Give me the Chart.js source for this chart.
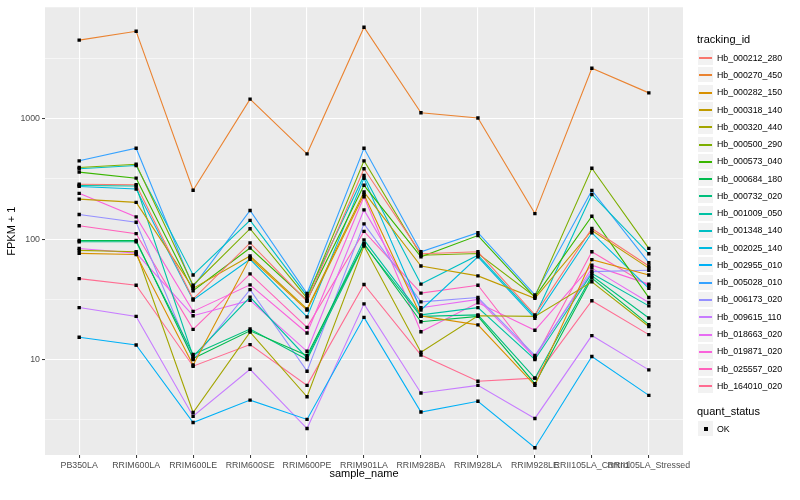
<!DOCTYPE html>
<html>
<head>
<meta charset="utf-8">
<script src="https://cdn.jsdelivr.net/npm/chart.js@4.4.1/dist/chart.umd.min.js"></script>
<style>
  body { margin: 0; background: #fff; }
  #wrap { position: relative; width: 800px; height: 500px; font-family: "Liberation Sans", Arial, sans-serif; }
  #legend { position: absolute; left: 0; top: 0; }
  .ttl { position: absolute; font-size: 11px; color: #000; white-space: nowrap; }
  .key { position: absolute; width: 17px; height: 17px; background: #F2F2F2; box-sizing: border-box; border: 1px solid #fff; }
  .key i { position: absolute; left: 1px; right: 1px; top: 7px; height: 1.5px; }
  .lab { position: absolute; font-size: 8.8px; color: #000; white-space: nowrap; line-height: 10px; }
</style>
</head>
<body>
<div id="wrap">
  <canvas id="myChart" width="800" height="500"></canvas>
  <div id="legend"></div>
</div>
<script>
// sample names on the x axis
const samples = [
    'PB350LA',
    'RRIM600LA',
    'RRIM600LE',
    'RRIM600SE',
    'RRIM600PE',
    'RRIM901LA',
    'RRIM928BA',
    'RRIM928LA',
    'RRIM928LE',
    'RRII105LA_Control',
    'RRII105LA_Stressed'
];

// FPKM + 1, one array per tracking_id
const hb_000212_280 = [286, 283, 31.8, 93, 30.5, 384, 75.7, 78.5, 23.5, 122.5, 59.8];
const hb_000270_450 = [4500, 5330, 255, 1455, 511, 5760, 1121, 1013, 163, 2625, 1640];
const hb_000282_150 = [76.2, 74.5, 9.0, 70, 25.7, 235, 23, 19.4, 6.1, 67.5, 50.4];
const hb_000318_140 = [215, 202, 39, 72.4, 26.3, 246, 59.8, 49.5, 32.2, 118, 57.4];
const hb_000320_440 = [80.7, 78.5, 3.63, 16.9, 4.9, 87.5, 11.5, 23.1, 22.8, 44.2, 18.8];
const hb_000500_290 = [394, 419, 41.4, 122, 32.3, 447, 73.5, 76, 33.3, 388, 83.7];
const hb_000573_040 = [360, 321, 37.3, 84.3, 31, 280, 71.2, 107, 33, 155, 32.7];
const hb_000684_180 = [97.5, 97.5, 10.2, 17.3, 10.8, 92, 20.6, 22.8, 6.3, 47.5, 19.5];
const hb_000732_020 = [95, 95, 11.0, 17.9, 10.0, 90.4, 22.8, 23.5, 7.0, 49.5, 22.1];
const hb_001009_050 = [279, 276, 10.6, 33, 10.3, 98.6, 23.5, 27, 10.0, 51.9, 27.9];
const hb_001348_140 = [384, 409, 50.4, 143, 33.8, 338, 42.3, 73.5, 22.8, 235, 75.7];
const hb_002025_140 = [274, 261, 31.2, 68, 22.6, 320, 25.8, 71.2, 22, 113, 39];
const hb_002955_010 = [15.3, 13.2, 3.0, 4.6, 3.18, 22.4, 3.66, 4.5, 1.85, 10.6, 5.04];
const hb_005028_010 = [447, 569, 40.1, 173, 35.3, 569, 78.5, 113, 34.4, 254, 63.7];
const hb_006173_020 = [160, 138, 10.0, 38.1, 8.0, 134, 30.1, 32.7, 10.8, 53.7, 55.2];
const hb_009615_110 = [27, 22.8, 3.38, 8.3, 2.67, 29, 5.27, 6.1, 3.24, 15.8, 8.2];
const hb_018663_020 = [83.7, 76.5, 23.1, 31, 11.7, 175, 26.9, 31.6, 10.4, 57.4, 29.8];
const hb_019871_020 = [240, 153, 25.1, 41.7, 16.6, 225, 17.0, 29.6, 17.5, 60.7, 42.3];
const hb_025557_020 = [129, 111, 17.8, 51.4, 18.5, 116, 35.6, 41.4, 10.2, 78.5, 41];
const hb_164010_020 = [47, 41.4, 8.8, 13.3, 6.1, 42, 10.9, 6.6, 7.0, 30.8, 16.1];

const trackingIds = [
    'Hb_000212_280', 'Hb_000270_450', 'Hb_000282_150', 'Hb_000318_140', 'Hb_000320_440',
    'Hb_000500_290', 'Hb_000573_040', 'Hb_000684_180', 'Hb_000732_020', 'Hb_001009_050',
    'Hb_001348_140', 'Hb_002025_140', 'Hb_002955_010', 'Hb_005028_010', 'Hb_006173_020',
    'Hb_009615_110', 'Hb_018663_020', 'Hb_019871_020', 'Hb_025557_020', 'Hb_164010_020'
];
const seriesValues = [
    hb_000212_280, hb_000270_450, hb_000282_150, hb_000318_140, hb_000320_440,
    hb_000500_290, hb_000573_040, hb_000684_180, hb_000732_020, hb_001009_050,
    hb_001348_140, hb_002025_140, hb_002955_010, hb_005028_010, hb_006173_020,
    hb_009615_110, hb_018663_020, hb_019871_020, hb_025557_020, hb_164010_020
];
const yTicks = [10, 100, 1000];

// ggplot default hue palette for 20 levels
const colors = [
    '#F8766D', '#EA8331', '#D89000', '#C09B00', '#A3A500', '#7CAE00', '#39B600', '#00BB4E', '#00BF7D', '#00C1A3',
    '#00BFC4', '#00BAE0', '#00B0F6', '#35A2FF', '#9590FF', '#C77CFF', '#E76BF3', '#FA62DB', '#FF62BC', '#FF6C91'
];

Chart.defaults.font.family = '"Liberation Sans", Arial, sans-serif';

const isMajor = (v) => {
    const l = Math.log10(v);
    return Math.abs(l - Math.round(l)) < 1e-6;
};

const lineSets = seriesValues.map((vals, k) => ({
    label: trackingIds[k],
    data: vals.map((v, i) => ({ x: i, y: v })),
    borderColor: colors[k],
    backgroundColor: colors[k],
    borderWidth: 1.1,
    pointRadius: 0,
    tension: 0,
    order: 1
}));
const pointSets = seriesValues.map((vals, k) => ({
    label: trackingIds[k] + ' OK',
    data: vals.map((v, i) => ({ x: i, y: v })),
    showLine: false,
    pointStyle: 'rect',
    pointRadius: 2.4,
    pointBackgroundColor: '#000',
    pointBorderColor: '#000',
    pointBorderWidth: 0,
    order: 0
}));

const panelBg = {
    id: 'panelBg',
    beforeDraw(chart) {
        const { ctx, chartArea: a } = chart;
        ctx.save();
        ctx.fillStyle = '#EBEBEB';
        ctx.fillRect(a.left, a.top, a.right - a.left, a.bottom - a.top);
        ctx.restore();
    }
};

const config = {
    type: 'line',
    data: { datasets: lineSets.concat(pointSets) },
    options: {
        responsive: false,
        animation: false,
        layout: { padding: { top: 5, right: 117, bottom: 19, left: 0 } },
        plugins: { legend: { display: false }, tooltip: { enabled: false } },
        scales: {
            x: {
                type: 'linear',
                min: -0.6,
                max: samples.length - 0.4,
                afterBuildTicks: (s) => { s.ticks = samples.map((n, i) => ({ value: i })); },
                afterFit: (s) => { s.height = 26; },
                border: { display: false },
                grid: { color: '#FFFFFF', lineWidth: 1.1, tickColor: '#333333', tickLength: 3, tickWidth: 1 },
                ticks: {
                    autoSkip: false, maxRotation: 0, minRotation: 0, padding: 2,
                    color: '#4D4D4D', font: { size: 8.8 },
                    callback: (v) => samples[v]
                },
                title: { display: true, text: 'sample_name', color: '#000', font: { size: 11 }, padding: { top: 0, bottom: 0 } }
            },
            y: {
                type: 'logarithmic',
                min: 1.61,
                max: 8430,
                afterBuildTicks: (s) => {
                    const t = [];
                    yTicks.forEach((v) => { t.push({ value: v / Math.sqrt(10) }); t.push({ value: v }); });
                    t.push({ value: 1000 * Math.sqrt(10) });
                    s.ticks = t;
                },
                afterFit: (s) => { s.width = 45; },
                border: { display: false },
                grid: {
                    color: '#FFFFFF',
                    lineWidth: (c) => (isMajor(c.tick.value) ? 1.1 : 0.55),
                    tickColor: (c) => (isMajor(c.tick.value) ? '#333333' : 'rgba(0,0,0,0)'),
                    tickLength: 3,
                    tickWidth: 1
                },
                ticks: {
                    autoSkip: false, padding: 2, color: '#4D4D4D', font: { size: 8.8 },
                    callback: (v) => (isMajor(v) ? String(Math.round(v)) : '')
                },
                title: { display: true, text: 'FPKM + 1', color: '#000', font: { size: 11 }, padding: { top: 5, bottom: 0 } }
            }
        }
    },
    plugins: [panelBg]
};

const myChart = new Chart(document.querySelector('#myChart'), config);

// ggplot-like legend on the right
const legend = document.querySelector('#legend');
let html = '<div class="ttl" style="left:697px;top:33px">tracking_id</div>';
trackingIds.forEach((id, k) => {
    const cy = 57.7 + k * 17.27;
    html += '<div class="key" style="left:697px;top:' + Math.round(cy - 8.5) + 'px"><i style="background:' + colors[k] + '"></i></div>';
    html += '<div class="lab" style="left:717px;top:' + Math.round(cy - 5) + 'px">' + id + '</div>';
});
html += '<div class="ttl" style="left:697px;top:405px">quant_status</div>';
html += '<div class="key" style="left:697px;top:420px"><i style="left:6px;right:auto;top:6px;width:4px;height:4px;background:#000"></i></div>';
html += '<div class="lab" style="left:717px;top:424px">OK</div>';
legend.innerHTML = html;
</script>
</body>
</html>
